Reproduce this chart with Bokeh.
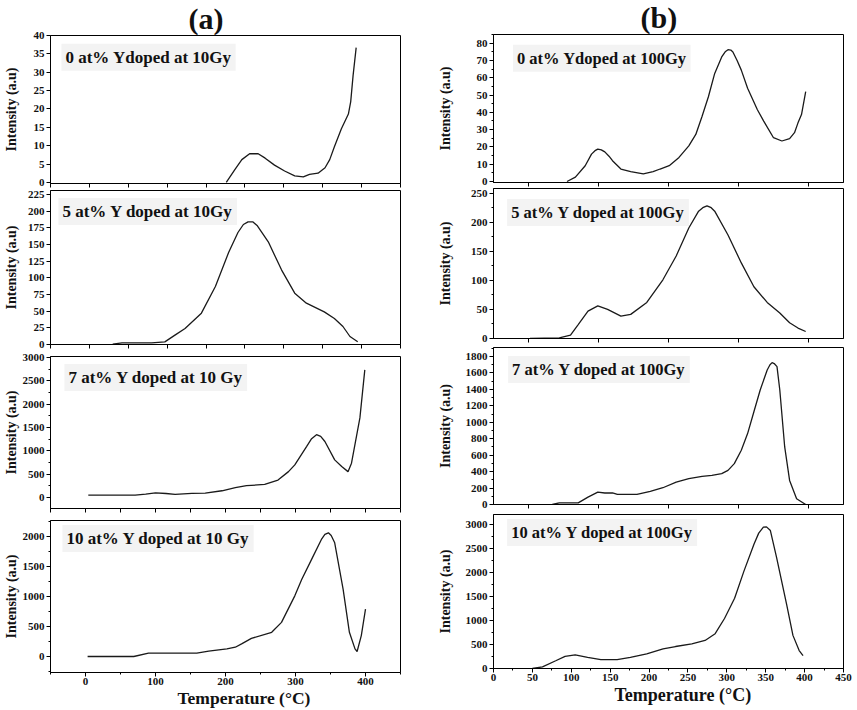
import math
from bokeh.plotting import figure
from bokeh.layouts import column, row
from bokeh.models import Label, SingleIntervalTicker, FixedTicker, Range1d, Title
from bokeh.embed import file_html
from bokeh.resources import INLINE

# ---------------- data ----------------
# (a) 10 Gy
T_A1 = [226, 237, 246, 256, 267, 276, 288, 301, 314, 325, 333, 344, 353, 359, 365, 374, 383, 386, 389, 393]
I_A1 = [0, 3.5, 6.2, 7.8, 7.8, 6.6, 4.7, 3.1, 1.8, 1.5, 2.2, 2.5, 4.0, 6.2, 9.7, 14.6, 18.6, 22, 29, 36.7]

T_A2 = [80, 92, 130, 147, 160, 173, 194, 212, 229, 241, 248, 254, 260, 266, 280, 297, 314, 329, 352, 365, 376, 385, 395]
I_A2 = [0.5, 2.5, 2.5, 4, 14, 24, 47, 87, 138, 168, 180, 184, 184, 178, 154, 112, 77, 62, 49, 39, 27, 12, 4]

T_A3 = [4, 40, 71, 86, 100, 115, 128, 152, 171, 195, 214, 230, 256, 275, 290, 299, 316, 323, 330, 336, 342, 356,
        366, 375, 380, 392, 399]
I_A3 = [50, 50, 50, 70, 100, 85, 65, 86, 94, 144, 209, 252, 280, 374, 554, 698, 1094, 1260, 1345, 1310, 1200, 806,
        662, 554, 734, 1705, 2734]

T_A4 = [3, 69, 90, 159, 176, 202, 214, 223, 237, 266, 280, 299, 309, 323, 337, 342, 347, 351, 356, 368, 377, 385,
        388, 394, 400]
I_A4 = [0, 0, 55, 55, 88, 127, 154, 209, 300, 402, 567, 1008, 1284, 1614, 1945, 2030, 2055, 2010, 1890, 1118, 402,
        127, 83, 347, 788]

# (b) 100 Gy
T_B1 = [55, 67, 81, 90, 95, 99, 104, 109, 115, 120, 132, 146, 164, 178, 188, 201, 215, 229, 239, 248, 257, 266, 276,
        281, 285, 289, 292, 298, 304, 313, 327, 336, 350, 362, 373, 380, 385, 390, 396]
I_B1 = [0, 2.5, 9.1, 15.8, 17.8, 18.7, 18.3, 17.1, 14.6, 12, 7.2, 5.7, 4.4, 5.7, 7.2, 9.1, 13.9, 20.6, 27.2, 37.7,
        49, 62.5, 72, 75, 76.2, 76, 74.9, 70, 64.4, 53.9, 41.5, 34.9, 25.3, 23.4, 24.8, 28.2, 33.9, 38.7, 52]

T_B2 = [2, 44, 60, 71, 85, 99, 113, 132, 146, 169, 192, 211, 229, 243, 249, 255, 261, 266, 285, 304, 322, 341, 359,
        373, 385, 396]
I_B2 = [0, 1, 6, 24, 47, 56, 50, 38.5, 41.5, 62, 101, 142, 190, 219, 225, 228, 225, 219, 178, 130, 89, 62, 44,
        27, 18, 12]

T_B3 = [34, 44, 71, 85, 99, 109, 120, 127, 155, 174, 192, 211, 229, 248, 262, 276, 285, 294, 304, 313,
        322, 331, 341, 345, 348, 351, 355, 359, 366, 373, 383, 396]
I_B3 = [0, 20, 20, 90, 150, 140, 140, 122, 122, 160, 204, 273, 314, 342, 354, 375, 415, 497, 660, 863,
        1128, 1393, 1637, 1700, 1726, 1715, 1677, 1393, 700, 293, 70, 0]

T_B4 = [50, 63, 80, 92, 105, 121, 138, 159, 176, 197, 218, 234, 255, 272, 285, 297, 310, 322, 335, 341, 347, 351,
        356, 364, 377, 385, 393, 398]
I_B4 = [0, 35, 162, 254, 282, 232, 183, 183, 232, 303, 408, 458, 514, 585, 725, 1042, 1465, 2028, 2592, 2820, 2944,
        2950, 2873, 2310, 1324, 690, 373, 270]

LABELS_A = ["0 at% Ydoped at 10Gy", "5 at% Y doped at 10Gy", "7 at% Y doped at 10 Gy", "10 at% Y doped at 10 Gy"]
LABELS_B = ["0 at% Ydoped at 100Gy", "5 at% Y doped at 100Gy", "7 at% Y doped at 100Gy", "10 at% Y doped at 100Gy"]
Y_TITLE = "Intensity (a.u)"
X_TITLE = "Temperature (°C)"
PANEL_TITLES = ["(a)", "(b)"]

FONT = "Liberation Serif"
INK = "#111111"


def make_panel(col_x, fig_w, bl, br, fig_top, bt, fh, bb, xr, yr, xt, xminor, yt, yminor, xlabels, ylab_standoff):
    p = figure(width=fig_w, height=bt + fh + bb, x_range=Range1d(*xr), y_range=Range1d(*yr),
               min_border_left=bl, min_border_right=br, min_border_top=bt, min_border_bottom=bb,
               output_backend="svg", toolbar_location=None, title=None)
    p.grid.visible = False
    p.outline_line_color = "black"
    p.outline_line_width = 1
    p.background_fill_color = "white"
    p.border_fill_color = "white"
    if xlabels:
        p.xaxis.ticker = SingleIntervalTicker(interval=xt, num_minor_ticks=xminor)
    else:
        # unlabeled axis: tick marks only, at multiples of xt
        first = int(math.ceil(xr[0] / xt) * xt)
        p.xaxis.ticker = FixedTicker(ticks=[], minor_ticks=list(range(first, int(xr[1]) + 1, xt)))
    p.yaxis.ticker = SingleIntervalTicker(interval=yt, num_minor_ticks=yminor)
    for ax in p.axis:
        ax.axis_line_color = "black"
        ax.major_tick_line_color = "black"
        ax.minor_tick_line_color = "black"
        ax.major_tick_out = 4
        ax.major_tick_in = 0
        ax.minor_tick_out = 2
        ax.minor_tick_in = 0
        ax.major_label_text_font = FONT
        ax.major_label_text_font_style = "bold"
        ax.major_label_text_font_size = "11px"
        ax.major_label_text_color = INK
        ax.major_label_standoff = 2
    if xlabels:
        p.xaxis.major_label_standoff = 1
    else:
        p.xaxis.minor_tick_out = 4
    p.yaxis.axis_label = Y_TITLE
    p.yaxis.axis_label_text_font = FONT
    p.yaxis.axis_label_text_font_style = "bold"
    p.yaxis.axis_label_text_font_size = "14px"
    p.yaxis.axis_label_text_color = INK
    p.yaxis.axis_label_standoff = ylab_standoff
    geom = dict(L=col_x + bl, T=fig_top + bt, W=fig_w - bl - br, H=fh, xr=xr, yr=yr)
    return p, geom


def to_data(g, px, py):
    x0, x1 = g["xr"]
    y0, y1 = g["yr"]
    x = x0 + (px - g["L"]) / g["W"] * (x1 - x0)
    y = y1 - (py - g["T"]) / g["H"] * (y1 - y0)
    return x, y


def add_text(p, g, px, py, text, size):
    x, y = to_data(g, px, py)
    lab = Label(x=x, y=y, text=text, text_font=FONT, text_font_size=f"{size}px",
                text_font_style="bold", text_align="left", text_baseline="middle",
                text_color=INK, background_fill_color="#f3f3f3", padding=4)
    p.add_layout(lab)


# ---------------- column (a) ----------------
A_COL = dict(col_x=0, fig_w=434, bl=48, br=34)
a_rows = [
    dict(fig_top=0, bt=33, fh=150, bb=5, xr=(0, 450), yr=(-0.3, 40), xt=50, xminor=0, yt=5, yminor=0,
         xlabels=False, ylab_standoff=12),
    dict(fig_top=188, bt=2, fh=154, bb=6, xr=(0, 450), yr=(0, 231), xt=50, xminor=0, yt=25, yminor=0,
         xlabels=False, ylab_standoff=6),
    dict(fig_top=350, bt=6, fh=152, bb=6, xr=(-50, 450), yr=(-236, 3021), xt=50, xminor=0, yt=500, yminor=2,
         xlabels=False, ylab_standoff=1),
    dict(fig_top=514, bt=6, fh=152, bb=37, xr=(-50, 450), yr=(-266, 2260), xt=100, xminor=2, yt=500, yminor=2,
         xlabels=True, ylab_standoff=1),
]
a_series = [(T_A1, I_A1), (T_A2, I_A2), (T_A3, I_A3), (T_A4, I_A4)]
a_text_pos = [(59, 55), (56, 211), (62, 377), (60, 538)]

# ---------------- column (b) ----------------
B_COL = dict(col_x=434, fig_w=422, bl=50, br=13)
b_rows = [
    dict(fig_top=0, bt=32, fh=150, bb=5, xr=(-50, 450), yr=(-0.6, 85), xt=100, xminor=0, yt=10, yminor=2,
         xlabels=False, ylab_standoff=21),
    dict(fig_top=187, bt=1, fh=150, bb=5, xr=(-50, 450), yr=(0, 258), xt=100, xminor=0, yt=50, yminor=2,
         xlabels=False, ylab_standoff=15),
    dict(fig_top=343, bt=4, fh=157, bb=5, xr=(-50, 450), yr=(0, 1910), xt=100, xminor=0, yt=200, yminor=2,
         xlabels=False, ylab_standoff=10),
    dict(fig_top=509, bt=5, fh=154, bb=41, xr=(0, 450), yr=(0, 3208), xt=50, xminor=2, yt=500, yminor=2,
         xlabels=True, ylab_standoff=10),
]
b_series = [(T_B1, I_B1), (T_B2, I_B2), (T_B3, I_B3), (T_B4, I_B4)]
b_text_pos = [(504, 56), (498, 212), (499, 369), (498, 532)]


def build(colspec, rows, series, labels, text_pos, text_size, title, title_left, title_standoff,
          xt_left, xt_size, xt_standoff):
    figs = []
    for i, r in enumerate(rows):
        p, g = make_panel(colspec["col_x"], colspec["fig_w"], colspec["bl"], colspec["br"], **r)
        t, v = series[i]
        p.line(t, v, line_color="#1a1a1a", line_width=1.3)
        tx, ty = text_pos[i]
        add_text(p, g, tx, ty, labels[i], text_size)
        if i == 0:
            p.add_layout(Title(text=title, align="left", offset=title_left - g["L"], vertical_align="middle",
                               standoff=title_standoff, text_font=FONT, text_font_size="30px",
                               text_font_style="bold", text_color=INK), "above")
        if i == len(rows) - 1:
            p.add_layout(Title(text=X_TITLE, align="left", offset=xt_left - g["L"], vertical_align="top",
                               standoff=xt_standoff, text_font=FONT, text_font_size=f"{xt_size}px",
                               text_font_style="bold", text_color=INK), "below")
        figs.append(p)
    return column(*figs, spacing=0)


col_a = build(A_COL, a_rows, a_series, LABELS_A, a_text_pos, 17, PANEL_TITLES[0], 186, 0, 175, 17.5, 0)
col_b = build(B_COL, b_rows, b_series, LABELS_B, b_text_pos, 16.5, PANEL_TITLES[1], 631, -1, 605, 18, 2)

layout = row(col_a, col_b, spacing=0)

open("out.html", "w").write(file_html(layout, INLINE))
